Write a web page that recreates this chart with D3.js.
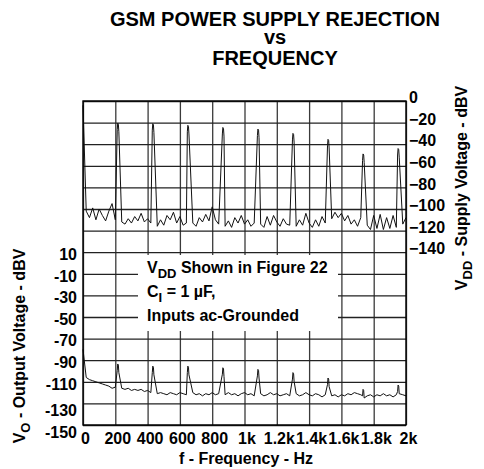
<!DOCTYPE html>
<html>
<head>
<meta charset="utf-8">
<script src="https://cdn.jsdelivr.net/npm/d3@7"></script>
<style>
body { margin: 0; background: #fff; }
svg { font-family: "Liberation Sans", Arial, sans-serif; font-weight: bold; }
</style>
</head>
<body>
<script>
// chart values
var freqTicks = [0, 200, 400, 600, 800, 1000, 1200, 1400, 1600, 1800, 2000];
var freqLabels = ["0", "200", "400", "600", "800", "1k", "1.2k", "1.4k", "1.6k", "1.8k", "2k"];
var vddTicks = [0, -20, -40, -60, -80, -100, -120, -140];
var voTicks = [10, -10, -30, -50, -70, -90, -110, -130, -150];

// noise floor sampled every 20 Hz from 0 to 2 kHz
var noiseStep = 20;
var vddNoise = [
  -4, -102, -108, -99, -110, -100, -106, -111, -102, -95,
  -110, -111, -112, -114, -109, -113, -107, -111, -104, -112,
  -109, -113, -112, -116, -110, -115, -106, -110, -103, -113,
  -107, -115, -113, -112, -113, -116, -108, -112, -105, -111,
  -98, -110, -114, -113, -116, -111, -117, -108, -113, -106,
  -114, -110, -116, -113, -112, -114, -117, -107, -115, -106,
  -112, -116, -109, -114, -115, -114, -116, -110, -115, -104,
  -113, -117, -110, -116, -107, -113, -112, -109, -103, -108,
  -104, -111, -106, -114, -110, -116, -108, -112, -115, -119,
  -106, -118, -105, -119, -108, -118, -106, -117, -115, -114,
  -108
];
var voNoise = [
  -80, -106, -108, -109, -110, -111, -112, -113, -114, -116,
  -115, -117, -116, -117, -116, -118, -117, -118, -117, -119,
  -118, -120, -119, -121, -120, -121, -122, -120, -121, -122,
  -120, -121, -122, -121, -120, -122, -121, -123, -121, -122,
  -120, -122, -121, -121, -122, -120, -122, -121, -123, -121,
  -120, -122, -121, -123, -122, -121, -123, -122, -120, -122,
  -121, -123, -122, -121, -123, -122, -121, -123, -122, -120,
  -122, -123, -121, -122, -124, -122, -121, -123, -122, -124,
  -122, -123, -121, -122, -120, -121, -122, -122, -123, -122,
  -124, -122, -123, -121, -123, -122, -124, -122, -121, -122,
  -123
];

// 217 Hz GSM burst harmonics
var peakFreq = [217, 434, 651, 868, 1085, 1302, 1519, 1736, 1953];
var vddPeak = [-20.5, -21, -22.5, -24.5, -26, -30, -35.5, -49, -44];
var voPeak = [-93.5, -95.5, -95.5, -97, -98.5, -101.5, -106.5, -117, -113];

var width = 484, height = 469;
var plotL = 83, plotR = 406, plotT = 101, plotB = 425;
var font = "Liberation Sans, Arial, sans-serif";

var svg = d3.select("body").append("svg")
    .attr("width", width)
    .attr("height", height);

var x = d3.scaleLinear().domain([0, 2000]).range([plotL, plotR]);
var yVo = d3.scaleLinear().domain([-150, 150]).range([plotB, plotT]);
var yVdd = d3.scaleLinear().domain([-300, 0]).range([plotB, plotT]);

// vertical grid + frequency labels
var gx = svg.append("g")
    .attr("transform", "translate(0," + plotB + ")")
    .call(d3.axisBottom(x)
      .tickValues(freqTicks)
      .tickSize(-(plotB - plotT))
      .tickPadding(7.5)
      .tickFormat(function (d, i) { return freqLabels[i]; }));
gx.select(".domain").remove();
gx.selectAll("line").attr("stroke", "#3a3a3a").attr("stroke-width", 1.3);
gx.selectAll("text").attr("font-size", 16).attr("fill", "#000")
    .attr("font-family", font).attr("font-weight", "bold")
    .attr("dx", 2);

// horizontal grid + output voltage labels
var gy = svg.append("g")
    .attr("transform", "translate(" + plotL + ",0)")
    .call(d3.axisLeft(yVo)
      .tickValues(d3.range(-150, 151, 20))
      .tickSize(-(plotR - plotL))
      .tickPadding(6)
      .tickFormat(function (d) { return voTicks.indexOf(d) >= 0 ? d : ""; }));
gy.select(".domain").remove();
gy.selectAll("line").attr("stroke", "#222").attr("stroke-width", 1.3);
gy.selectAll("text").attr("font-size", 16).attr("fill", "#000")
    .attr("font-family", font).attr("font-weight", "bold")
    .attr("dy", function (d) { return d < -120 ? "0.75em" : "0.45em"; });

// supply voltage labels on the right
var gr = svg.append("g")
    .attr("transform", "translate(" + plotR + ",0)")
    .call(d3.axisRight(yVdd).tickValues(vddTicks).tickSize(0).tickPadding(3));
gr.select(".domain").remove();
gr.selectAll("text").attr("font-size", 16).attr("fill", "#000")
    .attr("font-family", font).attr("font-weight", "bold")
    .attr("dy", "0.1em");

// note box
svg.append("rect")
    .attr("x", 138).attr("y", 255)
    .attr("width", 200).attr("height", 76)
    .attr("fill", "#fff");

var note = svg.append("g").attr("font-size", 16);
var t1 = note.append("text").attr("x", 147).attr("y", 273);
t1.append("tspan").text("V");
t1.append("tspan").attr("font-size", 13).attr("dy", 5).text("DD");
t1.append("tspan").attr("dy", -5).text(" Shown in Figure 22");
var t2 = note.append("text").attr("x", 147).attr("y", 297);
t2.append("tspan").text("C");
t2.append("tspan").attr("font-size", 13).attr("dy", 5).text("I");
t2.append("tspan").attr("dy", -5).text(" = 1 \u00b5F,");
note.append("text").attr("x", 147).attr("y", 321).text("Inputs ac-Grounded");

// traces
function trace(noise, peaks) {
  var pts = noise.map(function (v, i) { return [i * noiseStep, v]; })
    .filter(function (p) {
      return peakFreq.every(function (f) { return Math.abs(p[0] - f) > 10; });
    });
  peakFreq.forEach(function (f, i) {
    pts.push([f - 5, peaks[i] - 6], [f - 2, peaks[i]], [f + 2, peaks[i] - 1], [f + 5, peaks[i] - 8]);
  });
  return pts.sort(function (a, b) { return a[0] - b[0]; });
}

svg.append("path")
    .datum(trace(vddNoise, vddPeak))
    .attr("fill", "none")
    .attr("stroke", "#111")
    .attr("stroke-width", 1)
    .attr("d", d3.line().x(function (d) { return x(d[0]); }).y(function (d) { return yVdd(d[1]); }));

svg.append("path")
    .datum(trace(voNoise, voPeak))
    .attr("fill", "none")
    .attr("stroke", "#111")
    .attr("stroke-width", 1)
    .attr("d", d3.line().x(function (d) { return x(d[0]); }).y(function (d) { return yVo(d[1]); }));

// frame
svg.append("rect")
    .attr("x", plotL).attr("y", plotT)
    .attr("width", plotR - plotL).attr("height", plotB - plotT)
    .attr("fill", "none").attr("stroke", "#000").attr("stroke-width", 1.4);

// title
var title = svg.append("g").attr("font-size", 20).attr("text-anchor", "middle");
title.append("text").attr("x", 275).attr("y", 25.5).text("GSM POWER SUPPLY REJECTION");
title.append("text").attr("x", 275).attr("y", 44).text("vs");
title.append("text").attr("x", 275).attr("y", 65).text("FREQUENCY");

// axis titles
svg.append("text")
    .attr("x", 246).attr("y", 464)
    .attr("text-anchor", "middle").attr("font-size", 16)
    .text("f - Frequency - Hz");

var yl = svg.append("text")
    .attr("transform", "translate(25,346) rotate(-90)")
    .attr("text-anchor", "middle").attr("font-size", 16);
yl.append("tspan").text("V");
yl.append("tspan").attr("font-size", 13).attr("dy", 5).text("O");
yl.append("tspan").attr("dy", -5).text(" - Output Voltage - dBV");

var yr = svg.append("text")
    .attr("transform", "translate(467,188) rotate(-90)")
    .attr("text-anchor", "middle").attr("font-size", 16);
yr.append("tspan").text("V");
yr.append("tspan").attr("font-size", 13).attr("dy", 5).text("DD");
yr.append("tspan").attr("dy", -5).text(" - Supply Voltage - dBV");
</script>
</body>
</html>
